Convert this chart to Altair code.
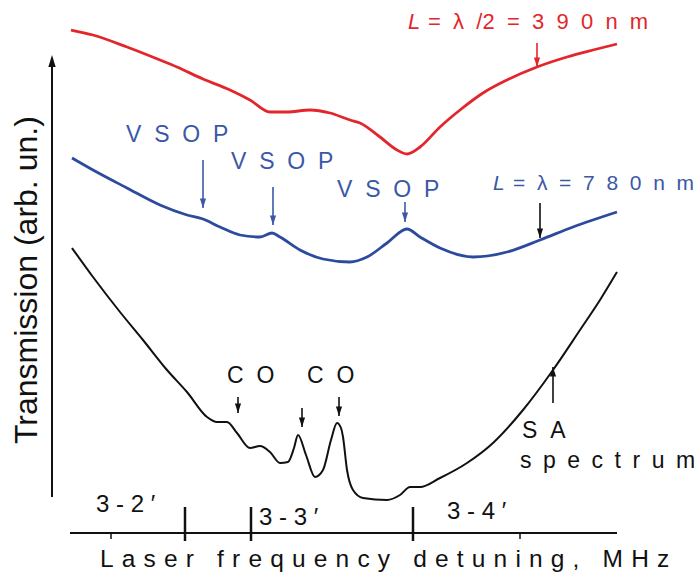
import altair as alt
import pandas as pd

# Transmission traces: laser detuning (arb. units) vs transmission (arb. units)
red_x = [1, 23, 57, 90, 107, 133, 160, 180, 200, 217, 240, 260, 280, 290, 310, 327, 337,
         350, 370, 390, 413, 437, 467, 497, 523, 547]
red_y = [503, 498, 486, 473, 466, 454, 443, 433, 421, 421, 423, 420, 413, 410, 396, 383, 379,
         386, 406, 423, 440, 453, 466, 476, 483, 489]

blue_x = [2, 23, 57, 90, 117, 133, 150, 170, 190, 202, 210, 230, 253, 280, 297, 317, 337,
          350, 370, 403, 437, 470, 503, 547]
blue_y = [375, 363, 345, 328, 318, 314, 306, 298, 296, 300, 296, 283, 274, 271, 276, 290, 304,
          296, 285, 276, 281, 293, 306, 321]

black_x = [2, 23, 50, 73, 97, 117, 137, 147, 157, 167, 180, 190, 200, 210, 218, 224, 228,
           236, 245, 253, 261, 267, 271, 273, 277, 283, 293, 317, 330, 340, 350, 370, 397,
           423, 453, 483, 510, 530, 547]
black_y = [285, 256, 221, 193, 163, 141, 116, 111, 111, 100, 85, 87, 81, 70, 71, 85, 98,
           78, 56, 63, 93, 110, 105, 96, 63, 43, 35, 33, 38, 46, 46, 55, 70,
           90, 123, 163, 203, 233, 261]

# Marker arrows: position, tail level, tip level, colour
arrow_x = [467, 133, 203, 335, 470, 168, 232, 269, 483]
arrow_from = [490, 373, 346, 331, 330, 136, 125, 136, 130]
arrow_to = [466, 325, 308, 311, 295, 120, 106, 117, 166]
arrow_color = ["#e3262b", "#3b58a6", "#3b58a6", "#3b58a6", "#111111",
               "#111111", "#111111", "#111111", "#111111"]

# Hyperfine transition markers on the detuning axis
major_ticks = [115, 181, 343]
minor_ticks = [41, 450]
transition_labels = ["3 - 2 \u2032", "3 - 3 \u2032", "3 - 4 \u2032"]
transition_x = [26, 189, 377]
transition_y = [21, 8, 14]

FS = "\u2007"          # wide gap used between spaced-out glyphs
EN = "\u2002"          # slightly narrower gap
AX_SEP = "\u2004"      # narrow gap for the axis caption

red_tokens = ["=", "\u03bb", "/2", "=", "3", "9", "0", "n", "m"]
blue_tokens = ["=", "\u03bb", "=", "7", "8", "0", "n", "m"]

RED = "#e3262b"
BLUE_LINE = "#2c4b9d"
BLUE_TEXT = "#3b58a6"
INK = "#111111"
FONT = "Liberation Sans"

xs = alt.Scale(domain=[-70, 630])
ys = alt.Scale(domain=[-42, 533])
X = lambda f: alt.X(f, type="quantitative", scale=xs, axis=None)
Y = lambda f: alt.Y(f, type="quantitative", scale=ys, axis=None)

layers = []

# traces
for xv, yv, col, sw in [(red_x, red_y, RED, 2.8), (blue_x, blue_y, BLUE_LINE, 2.8),
                        (black_x, black_y, INK, 2.0)]:
    df = pd.DataFrame({"x": xv, "y": yv, "o": range(len(xv))})
    layers.append(
        alt.Chart(df).mark_line(color=col, strokeWidth=sw, interpolate="monotone")
        .encode(x=X("x"), y=Y("y"), order="o:Q")
    )

# detuning axis line and ticks
axis_df = pd.DataFrame({"x": [0], "x2": [547], "y": [0]})
layers.append(alt.Chart(axis_df).mark_rule(color=INK, strokeWidth=2)
              .encode(x=X("x"), x2="x2", y=Y("y")))
maj_df = pd.DataFrame({"x": major_ticks, "y": [-8] * 3, "y2": [26] * 3})
layers.append(alt.Chart(maj_df).mark_rule(color=INK, strokeWidth=2.5)
              .encode(x=X("x"), y=Y("y"), y2="y2"))
min_df = pd.DataFrame({"x": minor_ticks, "y": [-6] * 2, "y2": [0] * 2})
layers.append(alt.Chart(min_df).mark_rule(color=INK, strokeWidth=1.5)
              .encode(x=X("x"), y=Y("y"), y2="y2"))

# transmission axis arrow
yax_df = pd.DataFrame({"x": [-18], "y": [36], "y2": [472]})
layers.append(alt.Chart(yax_df).mark_rule(color=INK, strokeWidth=2)
              .encode(x=X("x"), y=Y("y"), y2="y2"))
layers.append(alt.Chart(pd.DataFrame({"x": [-18], "y": [478]}))
              .mark_point(shape="M0,-1L-0.6,1L0.6,1Z", size=150, filled=True, opacity=1,
                          color=INK, yOffset=6)
              .encode(x=X("x"), y=Y("y")))

# marker arrows
arr = pd.DataFrame({"x": arrow_x, "y": arrow_from, "y2": arrow_to, "c": arrow_color})
arr["down"] = arr["y2"] < arr["y"]
layers.append(alt.Chart(arr).mark_rule(strokeWidth=1.6)
              .encode(x=X("x"), y=Y("y"), y2="y2", color=alt.Color("c:N", scale=None)))
layers.append(alt.Chart(arr[arr["down"]])
              .mark_point(shape="M0,1L-0.65,-1L0.65,-1Z", size=90, filled=True, opacity=1,
                          yOffset=-4.7)
              .encode(x=X("x"), y=Y("y2"), color=alt.Color("c:N", scale=None)))
layers.append(alt.Chart(arr[~arr["down"]])
              .mark_point(shape="M0,-1L-0.65,1L0.65,1Z", size=90, filled=True, opacity=1,
                          yOffset=4.7)
              .encode(x=X("x"), y=Y("y2"), color=alt.Color("c:N", scale=None)))


def label(text, x, y, color, size, style="normal", angle=0, align="left"):
    df = pd.DataFrame({"x": [x], "y": [y], "t": [text]})
    kw = dict(align=align, baseline="alphabetic", font=FONT, fontSize=size,
              fontStyle=style, color=color)
    if angle:
        kw["angle"] = angle
    return alt.Chart(df).mark_text(**kw).encode(x=X("x"), y=Y("y"), text="t:N")


# cavity length labels
layers.append(label("L", 338, 504, RED, 22, "italic"))
layers.append(label(FS.join(red_tokens), 358, 504, RED, 22))
layers.append(label("L", 423, 343, BLUE_TEXT, 21, "italic"))
layers.append(label(FS.join(blue_tokens), 443, 343, BLUE_TEXT, 21))

# resonance labels
for x, y in [(56, 391), (161, 364), (267, 336)]:
    layers.append(label(FS.join("VSOP"), x, y, BLUE_TEXT, 23))
for x, y in [(157, 150), (237, 150)]:
    layers.append(label(FS.join("CO"), x, y, INK, 23))
layers.append(label(FS.join("SA"), 452, 95, INK, 23))
layers.append(label(EN.join("spectrum"), 450, 65, INK, 23))

# transition labels
for t, x, y in zip(transition_labels, transition_x, transition_y):
    layers.append(label(t, x, y, INK, 24))

# axis captions
layers.append(label(AX_SEP.join("Laser frequency detuning, MHz"), 30, -34, INK, 24.5))
layers.append(label("Transmission (arb. un.)", -33, 89, INK, 32, angle=270))

chart = (
    alt.layer(*layers)
    .properties(width=700, height=575, padding=0, autosize=alt.AutoSizeParams(type="none"),
                background="white")
    .configure_view(strokeWidth=0)
)

chart.save("out.html", embed_options={"renderer": "svg", "actions": False})
